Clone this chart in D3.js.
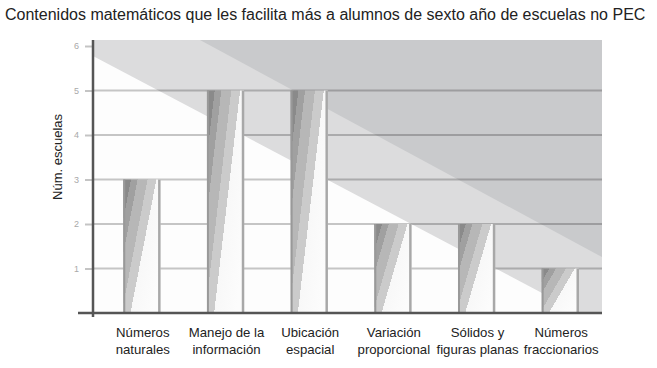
<!DOCTYPE html>
<html>
<head>
<meta charset="utf-8">
<script src="https://cdn.jsdelivr.net/npm/d3@7"></script>
<style>
  body { margin: 0; background: #fff; }
  svg text { font-family: "Liberation Sans", Arial, sans-serif; }
</style>
</head>
<body>
<svg id="chart" width="657" height="368"></svg>
<script>
var categories = ["Números naturales", "Manejo de la información", "Ubicación espacial",
                  "Variación proporcional", "Sólidos y figuras planas", "Números fraccionarios"];
var labelLines = [["Números", "naturales"], ["Manejo de la", "información"], ["Ubicación", "espacial"],
                  ["Variación", "proporcional"], ["Sólidos y", "figuras planas"], ["Números", "fraccionarios"]];
var values = [3, 5, 5, 2, 2, 1];
var yTicks = [0, 1, 2, 3, 4, 5, 6];
var gridTicks = [1, 2, 3, 4, 5];

var svg = d3.select("#chart");

var plot = {left: 93, right: 602, top: 40, bottom: 313};

var x = d3.scaleBand()
    .domain(categories)
    .range([100, 602])
    .paddingInner(0.557)
    .paddingOuter(0.278);

var y = d3.scaleLinear()
    .domain([0, 6])
    .range([313, 46]);

var defs = svg.append("defs");
defs.append("clipPath").attr("id", "plotclip")
  .append("rect")
    .attr("x", plot.left).attr("y", plot.top)
    .attr("width", plot.right - plot.left).attr("height", plot.bottom - plot.top);

// bar shading (banded, slanted)
var grad = defs.append("linearGradient")
    .attr("id", "barfill")
    .attr("x1", 0).attr("y1", 0).attr("x2", 1).attr("y2", 0.7);
[[0, "#8a8a8a"], [0.14, "#8a8a8a"], [0.14, "#a0a0a0"], [0.26, "#a0a0a0"],
 [0.26, "#b7b7b7"], [0.44, "#b7b7b7"], [0.44, "#cbcbcb"], [0.6, "#cbcbcb"],
 [0.6, "#f8f8f8"], [1, "#fcfcfc"]].forEach(function(s) {
    grad.append("stop").attr("offset", s[0]).attr("stop-color", s[1]);
});

// background bands
var bg = svg.append("g").attr("clip-path", "url(#plotclip)");
bg.append("rect")
    .attr("x", plot.left).attr("y", plot.top)
    .attr("width", plot.right - plot.left).attr("height", plot.bottom - plot.top)
    .attr("fill", "#dcdcdd");
// dark upper-right region
bg.append("path")
    .attr("d", d3.line()([[200, plot.top], [plot.right + 5, 40 + 0.54 * (plot.right + 5 - 200)], [plot.right + 5, plot.top - 5], [200, plot.top - 5]]))
    .attr("fill", "#c9cacc");
// white lower-left region
bg.append("path")
    .attr("d", d3.line()([[plot.left, 57 - 0.528 * 2], [plot.right + 5, 57 + 0.528 * (plot.right + 5 - 95)], [plot.right + 5, plot.bottom + 5], [plot.left, plot.bottom + 5]]))
    .attr("fill", "#fdfdfd");

// grid lines
svg.append("g")
  .selectAll("line")
  .data(gridTicks)
  .enter().append("line")
    .attr("x1", plot.left).attr("x2", plot.right)
    .attr("y1", d => y(d)).attr("y2", d => y(d))
    .attr("stroke", "#000").attr("stroke-opacity", 0.22).attr("stroke-width", 2);

// bars
var bars = svg.append("g").selectAll(".bar")
    .data(values)
    .enter().append("g").attr("class", "bar");

bars.append("rect")
    .attr("x", (d, i) => x(categories[i]))
    .attr("y", d => y(d))
    .attr("width", x.bandwidth())
    .attr("height", d => y(0) - y(d))
    .attr("fill", "url(#barfill)");
bars.append("line")
    .attr("x1", (d, i) => x(categories[i]) + 1).attr("x2", (d, i) => x(categories[i]) + 1)
    .attr("y1", d => y(d)).attr("y2", y(0))
    .attr("stroke", "#999").attr("stroke-width", 2);
bars.append("line")
    .attr("x1", (d, i) => x(categories[i]) + x.bandwidth() - 1).attr("x2", (d, i) => x(categories[i]) + x.bandwidth() - 1)
    .attr("y1", d => y(d)).attr("y2", y(0))
    .attr("stroke", "#a8a8a8").attr("stroke-width", 2.5);

// y axis
var yAxis = svg.append("g")
    .attr("transform", `translate(${plot.left - 1},0)`)
    .call(d3.axisLeft(y).tickValues(yTicks).tickSize(7).tickPadding(6).tickFormat(d3.format("d")));
yAxis.select(".domain").remove();
yAxis.selectAll(".tick line").attr("stroke", "#c4c4c4").attr("stroke-width", 2);
yAxis.selectAll(".tick text").attr("fill", "#a9a9a9").attr("font-size", 9)
    .attr("font-family", "Liberation Sans, Arial, sans-serif");
yAxis.selectAll(".tick").filter(d => d === 0).remove();

svg.append("line")
    .attr("x1", plot.left).attr("x2", plot.left)
    .attr("y1", plot.top).attr("y2", plot.bottom + 4)
    .attr("stroke", "#555").attr("stroke-width", 2.5);
svg.append("line")
    .attr("x1", 78).attr("x2", plot.right)
    .attr("y1", plot.bottom).attr("y2", plot.bottom)
    .attr("stroke", "#555").attr("stroke-width", 2.5);

// x labels
var xl = svg.append("g").selectAll("text")
    .data(labelLines)
    .enter().append("text")
    .attr("text-anchor", "middle")
    .attr("font-size", 13.2)
    .attr("fill", "#222")
    .attr("transform", (d, i) => `translate(${x(categories[i]) + x.bandwidth() / 2 + 1},337)`);
xl.selectAll("tspan")
    .data(d => d)
    .enter().append("tspan")
    .attr("x", 0)
    .attr("dy", (d, i) => i === 0 ? 0 : 16.5)
    .text(d => d);

// y title
svg.append("text")
    .attr("transform", "translate(62,157) rotate(-90)")
    .attr("text-anchor", "middle")
    .attr("font-size", 13)
    .attr("fill", "#222")
    .text("Núm. escuelas");

// title
svg.append("text")
    .attr("x", 5).attr("y", 20)
    .attr("font-size", 16)
    .attr("fill", "#222")
    .text("Contenidos matemáticos que les facilita más a alumnos de sexto año de escuelas no PEC");
</script>
</body>
</html>
